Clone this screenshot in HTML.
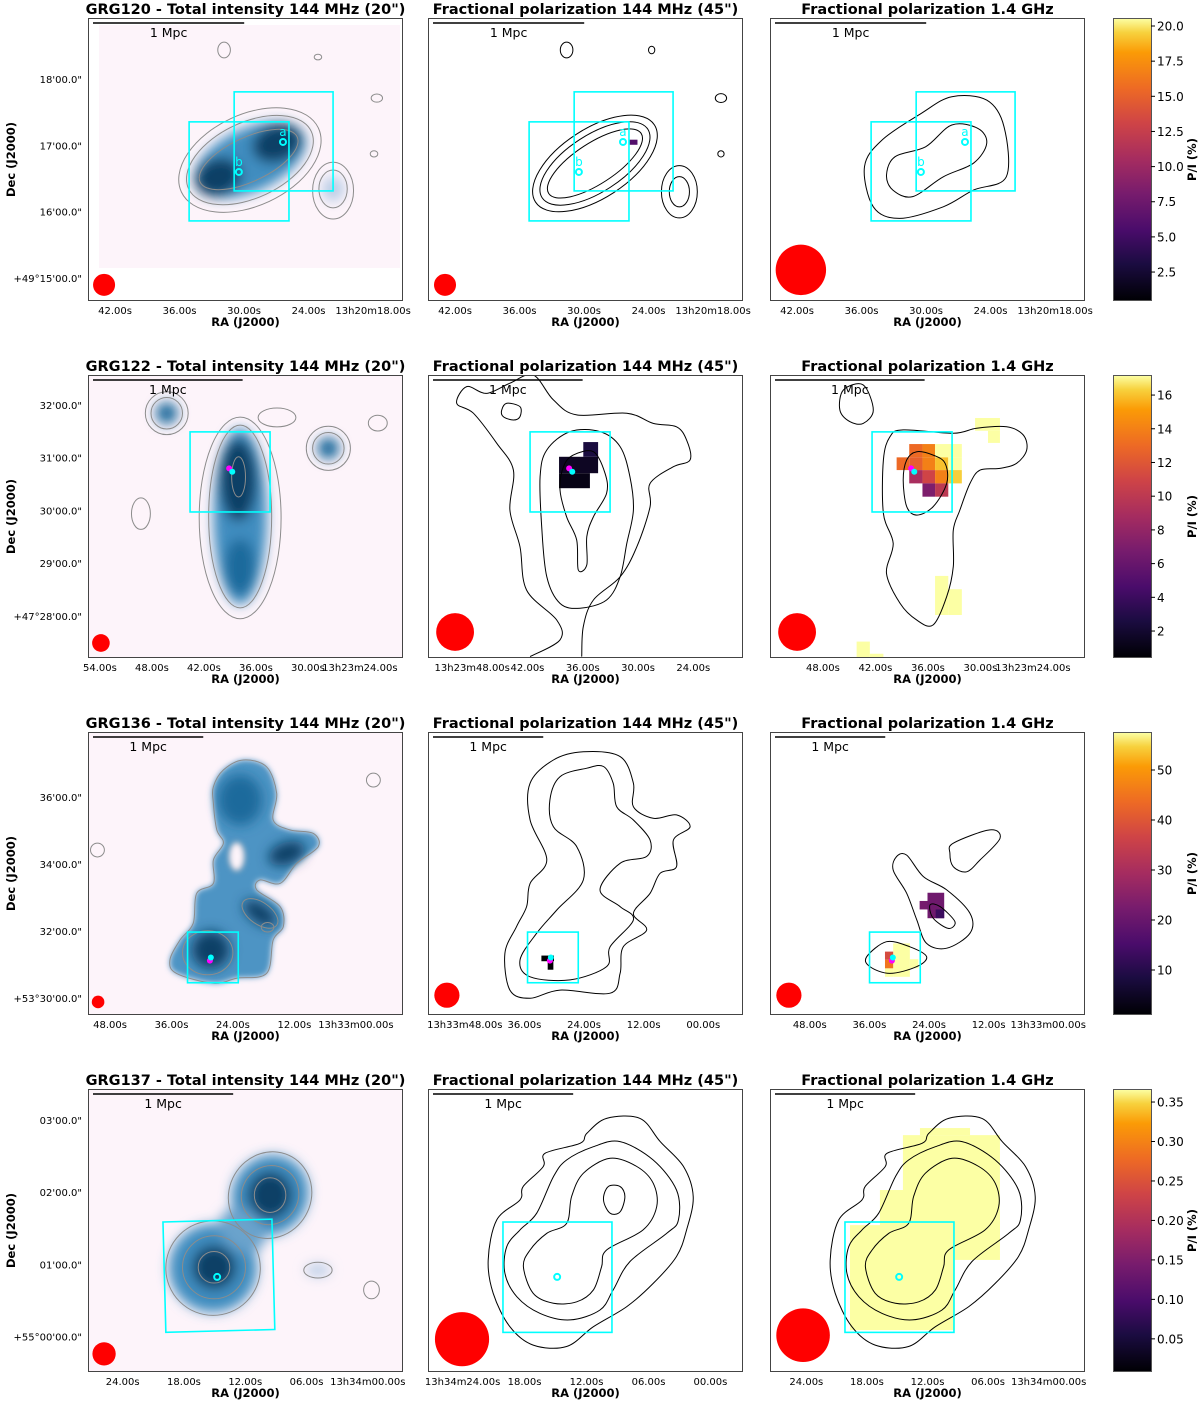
<!DOCTYPE html>
<html><head><meta charset="utf-8">
<style>
html,body{margin:0;padding:0;background:#fff;}
svg{display:block;font-family:"DejaVu Sans","Liberation Sans",sans-serif;}
.title{font-weight:bold;font-size:14.5px;}
.tick{font-size:10px;fill:#000;}
.axl{font-weight:bold;font-size:11.5px;}
.cbt{font-size:12px;}
</style></head>
<body>
<svg id="fig" width="1200" height="1405" viewBox="0 0 1200 1405" xmlns="http://www.w3.org/2000/svg">
<defs>
<filter id="blur" x="-50%" y="-50%" width="200%" height="200%"><feGaussianBlur stdDeviation="6"/></filter>
<filter id="blur2" x="-50%" y="-50%" width="200%" height="200%"><feGaussianBlur stdDeviation="3"/></filter>
<linearGradient id="inferno" x1="0" y1="1" x2="0" y2="0">
<stop offset="0" stop-color="#000004"/><stop offset="0.13" stop-color="#1b0c41"/><stop offset="0.25" stop-color="#4a0c6b"/>
<stop offset="0.38" stop-color="#781c6d"/><stop offset="0.5" stop-color="#a52c60"/><stop offset="0.63" stop-color="#cf4446"/>
<stop offset="0.75" stop-color="#ed6925"/><stop offset="0.88" stop-color="#fb9b06"/><stop offset="0.95" stop-color="#f7d13d"/><stop offset="1" stop-color="#fcffa4"/>
</linearGradient>
</defs>
</svg>
<script>
// ---------------- data ----------------
const titles1 = ["GRG120 - Total intensity 144 MHz (20\")","GRG122 - Total intensity 144 MHz (20\")","GRG136 - Total intensity 144 MHz (20\")","GRG137 - Total intensity 144 MHz (20\")"];
const titlePol = ["Fractional polarization 144 MHz (45\")","Fractional polarization 1.4 GHz"];
const cbDomain = [[0.44,20.57],[0.4,17.19],[1,57.6],[0.008,0.3665]];
const cbTicks = [[2.5,5,7.5,10,12.5,15,17.5,20],[2,4,6,8,10,12,14,16],[10,20,30,40,50],[0.05,0.1,0.15,0.2,0.25,0.3,0.35]];
const cbTickLabels = [["2.5","5.0","7.5","10.0","12.5","15.0","17.5","20.0"],["2","4","6","8","10","12","14","16"],["10","20","30","40","50"],["0.05","0.10","0.15","0.20","0.25","0.30","0.35"]];
const decDomain = [[18.92,14.65],[32.57,27.2],[37.94,29.49],[3.43,-0.49]];
const decTicks = [[18,17,16,15],[32,31,30,29,28],[36,34,32,30],[3,2,1,0]];
const decLabels = [["18'00.0\"","17'00.0\"","16'00.0\"","+49°15'00.0\""],["32'00.0\"","31'00.0\"","30'00.0\"","29'00.0\"","+47°28'00.0\""],["36'00.0\"","34'00.0\"","32'00.0\"","+53°30'00.0\""],["03'00.0\"","02'00.0\"","01'00.0\"","+55°00'00.0\""]];
const raDomain = [
 [[44.52,15.22],[44.52,15.22],[44.52,15.22]],
 [[55.38,19.02],[52.8,18.6],[54.05,18.05]],
 [[52.3,-9.2],[55.4,-8],[56,-7.4]],
 [[27.4,-3.45],[27.35,-3.15],[27.6,-3.6]]];
const raTicks = [
 [[42,36,30,24,18],[42,36,30,24,18],[42,36,30,24,18]],
 [[54,48,42,36,30,24],[48,42,36,30,24],[48,42,36,30,24]],
 [[48,36,24,12,0],[48,36,24,12,0],[48,36,24,12,0]],
 [[24,18,12,6,0],[24,18,12,6,0],[24,18,12,6,0]]];
const raLabels = [
 [["42.00s","36.00s","30.00s","24.00s","13h20m18.00s"],["42.00s","36.00s","30.00s","24.00s","13h20m18.00s"],["42.00s","36.00s","30.00s","24.00s","13h20m18.00s"]],
 [["54.00s","48.00s","42.00s","36.00s","30.00s","13h23m24.00s"],["13h23m48.00s","42.00s","36.00s","30.00s","24.00s"],["48.00s","42.00s","36.00s","30.00s","13h23m24.00s"]],
 [["48.00s","36.00s","24.00s","12.00s","13h33m00.00s"],["13h33m48.00s","36.00s","24.00s","12.00s","00.00s"],["48.00s","36.00s","24.00s","12.00s","13h33m00.00s"]],
 [["24.00s","18.00s","12.00s","06.00s","13h34m00.00s"],["13h34m24.00s","18.00s","12.00s","06.00s","00.00s"],["24.00s","18.00s","12.00s","06.00s","13h34m00.00s"]]];
const mpcBar = [0.48,0.475,0.35,0.445];
const beams = [[[0.051,0.943,0.035],[0.054,0.943,0.035],[0.098,0.89,0.08]],
 [[0.041,0.947,0.028],[0.086,0.908,0.06],[0.086,0.908,0.06]],
 [[0.032,0.954,0.02],[0.06,0.93,0.04],[0.06,0.93,0.04]],
 [[0.051,0.936,0.037],[0.108,0.884,0.086],[0.105,0.87,0.085]]];
const boxes = [[[0.321,0.367,0.638,0.717],[0.464,0.261,0.778,0.611]],[[0.324,0.201,0.578,0.484]],[[0.316,0.707,0.477,0.886]],[[0.238,0.47,0.584,0.86]]];
const hosts = [[[0.619,0.438,"a",0],[0.479,0.544,"b",0]],[[0.448,0.33,"",1],[0.458,0.342,"",2]],[[0.387,0.808,"",1],[0.39,0.797,"",2]],[[0.41,0.664,"",0]]];

const blobs1 = [[0.514,0.502,0.19,0.1,-25,1],[0.413,0.562,0.075,0.06,-20,2],[0.6,0.442,0.08,0.06,-20,2],[0.778,0.604,0.035,0.04,0,0]];
const blobs2 = [[0.483,0.5,0.085,0.28,0,1],[0.477,0.371,0.06,0.13,0,2],[0.483,0.678,0.05,0.09,0,1.5],[0.25,0.135,0.035,0.035,0,1.5],[0.763,0.259,0.035,0.035,0,1.5]];
const blobs3 = [[0.483,0.24,0.07,0.08,0,1.5],[0.631,0.429,0.06,0.035,-20,2],[0.546,0.641,0.06,0.03,35,2],[0.39,0.77,0.06,0.06,0,2]];
const shape3 = [[0.493,0.099],[0.567,0.123],[0.599,0.217],[0.588,0.311],[0.641,0.346],[0.715,0.358],[0.731,0.405],[0.663,0.464],[0.61,0.535],[0.546,0.523],[0.536,0.558],[0.61,0.617],[0.62,0.688],[0.588,0.735],[0.567,0.853],[0.472,0.87],[0.398,0.888],[0.281,0.853],[0.26,0.806],[0.292,0.735],[0.334,0.676],[0.345,0.57],[0.398,0.535],[0.398,0.452],[0.43,0.393],[0.409,0.346],[0.398,0.252],[0.398,0.193],[0.43,0.134]];
const blobs4 = [[0.578,0.375,0.12,0.13,30,1],[0.578,0.375,0.07,0.075,0,2],[0.397,0.633,0.14,0.14,0,1],[0.4,0.63,0.07,0.07,0,2],[0.49,0.5,0.08,0.06,40,0.8],[0.73,0.64,0.04,0.02,0,0]];
const holes3 = [[0.472,0.44,0.024,0.045,0]];
const cont1 = [[0.514,0.502,0.215,0.12,-25],[0.514,0.502,0.24,0.145,-25],[0.51,0.5,0.17,0.07,-25],[0.778,0.604,0.045,0.06,0],[0.778,0.61,0.065,0.09,0],[0.432,0.113,0.02,0.025,0],[0.73,0.138,0.012,0.009,0],[0.917,0.283,0.018,0.013,0],[0.908,0.48,0.012,0.01,0]];
const cont2 = [[0.483,0.5,0.1,0.29,0],[0.483,0.505,0.13,0.32,0],[0.478,0.36,0.022,0.064,0],[0.25,0.135,0.05,0.05,0],[0.25,0.135,0.068,0.068,0],[0.763,0.259,0.05,0.05,0],[0.763,0.259,0.07,0.07,0],[0.168,0.49,0.03,0.05,0],[0.6,0.15,0.06,0.03,0],[0.92,0.17,0.03,0.025,0]];
const cont3 = [[0.546,0.641,0.065,0.035,35],[0.57,0.69,0.02,0.015,0],[0.03,0.417,0.022,0.022,0],[0.906,0.17,0.022,0.022,0],[0.38,0.78,0.08,0.07,0]];
const cont4 = [[0.578,0.375,0.13,0.14,30],[0.578,0.375,0.09,0.095,30],[0.578,0.375,0.05,0.055,0],[0.397,0.633,0.15,0.15,0],[0.4,0.63,0.1,0.1,0],[0.4,0.63,0.05,0.05,0],[0.73,0.64,0.045,0.025,0],[0.9,0.71,0.025,0.028,0]];
const pol1a = [[0.53,0.514,0.175,0.065,-33],[0.53,0.514,0.2,0.09,-33],[0.53,0.514,0.225,0.11,-33],[0.798,0.614,0.032,0.048,0],[0.798,0.614,0.057,0.083,0],[0.44,0.113,0.02,0.025,0],[0.71,0.113,0.01,0.012,0],[0.93,0.283,0.018,0.014,0],[0.93,0.48,0.01,0.01,0]];
const pol1bOuter = [[0.577,0.278],[0.688,0.29],[0.743,0.384],[0.75,0.561],[0.646,0.608],[0.55,0.667],[0.411,0.708],[0.328,0.667],[0.3,0.525],[0.356,0.431],[0.48,0.337]];
const pol1bInner = [[0.577,0.378],[0.66,0.39],[0.688,0.443],[0.646,0.513],[0.55,0.561],[0.453,0.631],[0.39,0.608],[0.37,0.555],[0.397,0.49],[0.494,0.455]];
const pol2aMid = [[0.451,0.2],[0.546,0.2],[0.61,0.253],[0.641,0.359],[0.652,0.477],[0.631,0.595],[0.61,0.713],[0.567,0.795],[0.483,0.824],[0.419,0.807],[0.377,0.713],[0.361,0.536],[0.356,0.359],[0.377,0.265]];
const pol2aInner = [[0.461,0.283],[0.525,0.271],[0.562,0.347],[0.567,0.418],[0.525,0.501],[0.504,0.571],[0.504,0.671],[0.477,0.689],[0.472,0.583],[0.44,0.501],[0.419,0.406],[0.43,0.324]];
const pol2aOuter = [[0.324,0.995],[0.419,0.936],[0.409,0.866],[0.313,0.76],[0.292,0.607],[0.26,0.477],[0.271,0.336],[0.218,0.241],[0.144,0.135],[0.091,0.1],[0.123,0.041],[0.186,0.065],[0.26,0.029],[0.334,0],[0.398,0.088],[0.472,0.141],[0.631,0.135],[0.715,0.171],[0.789,0.183],[0.821,0.23],[0.832,0.3],[0.779,0.324],[0.705,0.383],[0.705,0.465],[0.663,0.607],[0.61,0.713],[0.525,0.795],[0.493,0.889],[0.488,0.995]];
const pol2aSmall = [[0.25,0.1],[0.292,0.112],[0.292,0.147],[0.271,0.159],[0.239,0.147],[0.234,0.124]];
const pol2bOuter = [[0.423,0.194],[0.582,0.206],[0.656,0.188],[0.751,0.183],[0.804,0.212],[0.815,0.265],[0.783,0.312],[0.73,0.33],[0.667,0.336],[0.635,0.383],[0.603,0.477],[0.582,0.548],[0.582,0.677],[0.561,0.783],[0.518,0.883],[0.466,0.866],[0.413,0.807],[0.37,0.701],[0.391,0.595],[0.36,0.489],[0.36,0.3],[0.381,0.218]];
const pol2bInner = [[0.466,0.271],[0.518,0.283],[0.556,0.312],[0.561,0.383],[0.518,0.465],[0.466,0.495],[0.434,0.465],[0.423,0.371],[0.434,0.3]];
const pol2bSmall = [[0.233,0.053],[0.296,0.035],[0.328,0.124],[0.296,0.171],[0.254,0.165],[0.222,0.124]];
const pol3aOuter = [[0.493,0.07],[0.61,0.087],[0.652,0.181],[0.652,0.264],[0.715,0.305],[0.789,0.293],[0.832,0.335],[0.779,0.382],[0.789,0.476],[0.737,0.499],[0.705,0.57],[0.652,0.641],[0.694,0.7],[0.62,0.759],[0.61,0.853],[0.578,0.923],[0.419,0.912],[0.324,0.941],[0.26,0.912],[0.244,0.782],[0.281,0.688],[0.313,0.617],[0.324,0.535],[0.377,0.452],[0.324,0.311],[0.324,0.181],[0.398,0.099]];
const pol3aInner = [[0.557,0.122],[0.588,0.181],[0.599,0.264],[0.652,0.311],[0.705,0.382],[0.694,0.44],[0.61,0.464],[0.546,0.558],[0.61,0.617],[0.652,0.664],[0.578,0.759],[0.567,0.829],[0.451,0.876],[0.324,0.865],[0.292,0.806],[0.345,0.711],[0.409,0.629],[0.493,0.523],[0.472,0.405],[0.398,0.335],[0.387,0.24],[0.419,0.158],[0.504,0.128]];
const pol3bA = [[0.402,0.44],[0.434,0.435],[0.487,0.511],[0.561,0.558],[0.635,0.641],[0.635,0.711],[0.561,0.764],[0.497,0.747],[0.466,0.664],[0.434,0.57],[0.391,0.488]];
const pol3bInner = [[0.508,0.611],[0.54,0.617],[0.587,0.67],[0.566,0.694],[0.518,0.658]];
const pol3bUpper = [[0.582,0.393],[0.698,0.346],[0.73,0.376],[0.667,0.452],[0.624,0.494],[0.582,0.476],[0.571,0.429]];
const pol3bLower = [[0.307,0.794],[0.37,0.741],[0.444,0.759],[0.497,0.794],[0.466,0.829],[0.381,0.853],[0.317,0.829]];
const pol4Outer = [[0.567,0.104],[0.673,0.104],[0.737,0.186],[0.811,0.274],[0.842,0.38],[0.821,0.498],[0.789,0.592],[0.715,0.687],[0.631,0.769],[0.525,0.84],[0.44,0.91],[0.334,0.905],[0.26,0.84],[0.207,0.722],[0.191,0.604],[0.218,0.463],[0.292,0.392],[0.302,0.345],[0.366,0.274],[0.372,0.227],[0.483,0.192],[0.504,0.157]];
const pol4Mid = [[0.61,0.186],[0.715,0.251],[0.789,0.357],[0.795,0.463],[0.758,0.51],[0.641,0.61],[0.588,0.71],[0.546,0.781],[0.451,0.816],[0.356,0.793],[0.282,0.734],[0.244,0.651],[0.25,0.557],[0.292,0.498],[0.345,0.439],[0.398,0.31],[0.44,0.251],[0.525,0.204]];
const pol4Inner = [[0.578,0.245],[0.663,0.274],[0.715,0.333],[0.726,0.416],[0.683,0.498],[0.567,0.569],[0.551,0.628],[0.525,0.71],[0.472,0.752],[0.398,0.757],[0.334,0.722],[0.303,0.628],[0.324,0.569],[0.377,0.51],[0.44,0.475],[0.456,0.38],[0.493,0.298]];
const pol4Small = [[0.572,0.345],[0.61,0.345],[0.625,0.38],[0.61,0.434],[0.578,0.439],[0.557,0.392]];
const pix1b = [[0.64,0.43,0.665,0.448,6]];
const pix2a = [[0.493,0.237,0.54,0.289,2.5],[0.416,0.289,0.54,0.347,1.5],[0.416,0.347,0.514,0.4,1]];
const pix2b = [[0.442,0.244,0.484,0.291,13],[0.484,0.244,0.524,0.291,14],[0.524,0.244,0.609,0.291,17.2],
 [0.402,0.291,0.442,0.336,13],[0.442,0.291,0.484,0.336,12.5],[0.484,0.291,0.524,0.336,14],[0.524,0.291,0.566,0.336,16],[0.566,0.291,0.609,0.336,17.2],
 [0.442,0.336,0.484,0.383,9],[0.484,0.336,0.524,0.383,11],[0.524,0.336,0.566,0.383,14],[0.566,0.336,0.609,0.383,16.3],
 [0.484,0.383,0.524,0.43,7],[0.524,0.383,0.566,0.43,10],
 [0.651,0.152,0.73,0.197,17.2],[0.692,0.197,0.73,0.24,17.2],[0.524,0.71,0.566,0.848,17.2],[0.566,0.757,0.609,0.848,17.2],[0.275,0.942,0.317,1,17.2],[0.317,0.985,0.36,1,17.2]];
const pix3a = [[0.36,0.79,0.4,0.81,1],[0.38,0.81,0.398,0.84,1]];
const pix3b = [[0.5,0.568,0.553,0.658,21],[0.475,0.597,0.5,0.627,22],[0.526,0.627,0.553,0.658,13],
 [0.391,0.747,0.444,0.865,57.6],[0.365,0.835,0.391,0.865,57.6],[0.444,0.803,0.471,0.835,57.6],[0.365,0.776,0.391,0.805,38],[0.365,0.805,0.391,0.835,45]];
const pix4b = [[0.422,0.163,0.73,0.534,0.3665],[0.476,0.138,0.635,0.163,0.3665],[0.254,0.481,0.587,0.852,0.3665],[0.349,0.357,0.73,0.604,0.3665]];

// ---------------- drawing ----------------
const NS="http://www.w3.org/2000/svg";
const svg=document.getElementById('fig');
const PX=[88,428,770], RY=[18,375,732,1089], W=315, H=283;
const CBX=1113, CBW=38;
function mk(tag,attrs,parent){const e=document.createElementNS(NS,tag);for(const k in attrs)e.setAttribute(k,attrs[k]);(parent||svg).appendChild(e);return e;}
function sx(p,u){return PX[p]+u*W;}
function sy(r,v){return RY[r]+v*H;}
function lin(d,r0,r1,val){return r0+(val-d[0])/(d[1]-d[0])*(r1-r0);}
function inferno(t){const st=[[0,[0,0,4]],[.13,[27,12,65]],[.25,[74,12,107]],[.38,[120,28,109]],[.5,[165,44,96]],[.63,[207,68,70]],[.75,[237,105,37]],[.88,[251,155,6]],[.95,[247,209,61]],[1,[252,255,164]]];
 t=Math.max(0,Math.min(1,t));for(let i=1;i<st.length;i++){if(t<=st[i][0]){const a=st[i-1],b=st[i];const f=(t-a[0])/(b[0]-a[0]);const c=a[1].map((x,j)=>Math.round(x+(b[1][j]-x)*f));return `rgb(${c})`;}}return 'rgb(252,255,164)';}
function smooth(pts,p,r,closed){const P=pts.map(q=>[sx(p,q[0]),sy(r,q[1])]);const n=P.length;let d=`M${P[0][0].toFixed(1)},${P[0][1].toFixed(1)}`;
 const last=closed?n:n-1;for(let i=0;i<last;i++){const p0=P[(i-1+n)%n],p1=P[i],p2=P[(i+1)%n],p3=P[(i+2)%n];
 const a=closed||i>0?p0:p1, b=closed||i<n-2?p3:p2;
 d+=` C${(p1[0]+(p2[0]-a[0])/6).toFixed(1)},${(p1[1]+(p2[1]-a[1])/6).toFixed(1)} ${(p2[0]-(b[0]-p1[0])/6).toFixed(1)},${(p2[1]-(b[1]-p1[1])/6).toFixed(1)} ${p2[0].toFixed(1)},${p2[1].toFixed(1)}`;}
 return d+(closed?'Z':'');}
function ell(g,p,r,e,attrs){const cx=sx(p,e[0]),cy=sy(r,e[1]);return mk('ellipse',Object.assign({cx:cx,cy:cy,rx:e[2]*W,ry:e[3]*W,transform:`rotate(${e[4]} ${cx} ${cy})`},attrs),g);}

const blobsAll=[blobs1,blobs2,blobs3,blobs4], contAll=[cont1,cont2,cont3,cont4];
function blueFor(l){return l>=2?'#0b3f66':(l>=1.5?'#1f6a9c':(l>=1?'#3f8dc0':(l>=0.8?'#6aa3cc':'#b9cde6')));}

for(let r=0;r<4;r++){
 for(let p=0;p<3;p++){
  const g=mk('g',{});  
  const cid=`clip${r}${p}`; const cp=mk('clipPath',{id:cid},svg.querySelector('defs')); mk('rect',{x:PX[p],y:RY[r],width:W,height:H},cp);
  const inner=mk('g',{'clip-path':`url(#${cid})`},g);
  if(p===0){
   const bg=mk('rect',{x:PX[p]+(r===0?11:0),y:RY[r]+(r===0?7:0),width:r===0?301:W,height:r===0?243:H,fill:'#fdf4fa'},inner);
   
   if(r===2){
    const sh=mk('path',{d:smooth(shape3,p,r,true),fill:'#4d94c4',filter:'url(#blur2)'},inner);
    
   }
   const bl=mk('g',{filter:'url(#blur)'},inner);
   blobsAll[r].forEach(b=>{const e=ell(bl,p,r,b,{fill:blueFor(b[5])});});
   if(r===2){
    holes3.forEach(h=>{const e=ell(inner,p,r,h,{fill:'#fdf4fa',stroke:'#8c8c8c','stroke-width':1,filter:'url(#blur2)'});});
    const oc=mk('path',{d:smooth(shape3,p,r,true),fill:'none',stroke:'#8c8c8c','stroke-width':1},inner);
    
   }
   contAll[r].forEach(c=>{const e=ell(inner,p,r,c,{fill:'none',stroke:'#8c8c8c','stroke-width':1});});
  } else {
   let pix=[],polys=[],ells=[],openPolys=[];
   if(r===0){ if(p===1){pix=pix1b;ells=pol1a;} else {polys=[pol1bOuter,pol1bInner];} }
   if(r===1){ if(p===1){pix=pix2a;polys=[pol2aMid,pol2aInner,pol2aSmall];openPolys=[pol2aOuter];} else {pix=pix2b;polys=[pol2bOuter,pol2bInner,pol2bSmall];} }
   if(r===2){ if(p===1){pix=pix3a;polys=[pol3aOuter,pol3aInner];} else {pix=pix3b;polys=[pol3bA,pol3bInner,pol3bUpper,pol3bLower];} }
   if(r===3){ if(p===1){polys=[pol4Outer,pol4Mid,pol4Inner,pol4Small];} else {pix=pix4b;polys=[pol4Outer,pol4Mid,pol4Inner];} }
   pix.forEach(q=>{const t=(q[4]-cbDomain[r][0])/(cbDomain[r][1]-cbDomain[r][0]);
    const e=mk('rect',{x:sx(p,q[0]),y:sy(r,q[1]),width:(q[2]-q[0])*W,height:(q[3]-q[1])*H,fill:inferno(t)},inner);
    });
   ells.forEach(c=>{const e=ell(inner,p,r,c,{fill:'none',stroke:'#000','stroke-width':1});});
   polys.forEach(pl=>{const e=mk('path',{d:smooth(pl,p,r,true),fill:'none',stroke:'#000','stroke-width':1},inner);});
   openPolys.forEach(pl=>{const e=mk('path',{d:smooth(pl,p,r,false),fill:'none',stroke:'#000','stroke-width':1},inner);});
  }
  boxes[r].forEach(b=>{const x0=sx(p,b[0]),y0=sy(r,b[1]);const e=mk('rect',{x:x0,y:y0,width:(b[2]-b[0])*W,height:(b[3]-b[1])*H,fill:'none',stroke:'#00ffff','stroke-width':1.6},inner);
   if(r===3&&p===0)e.setAttribute('transform',`rotate(-1.5 ${x0} ${y0})`);
   });
  hosts[r].forEach(h=>{const x=sx(p,h[0]),y=sy(r,h[1]);
   if(h[3]===0){const e=mk('circle',{cx:x,cy:y,r:3,fill:'none',stroke:'#00ffff','stroke-width':2},inner);
    if(h[2]){const t=mk('text',{x:x,y:y-6,'text-anchor':'middle','font-size':12,fill:'#00ffff'},inner);t.textContent=h[2];}}
   else {const e=mk('circle',{cx:x,cy:y,r:3,fill:h[3]===1?'#ff00ff':'#00ffff'},inner);}
  });
  const bm=beams[r][p]; const be=mk('circle',{cx:sx(p,bm[0]),cy:sy(r,bm[1]),r:bm[2]*W,fill:'#ff0000'},inner);
  
  const sb=mk('line',{x1:PX[p]+5,x2:PX[p]+5+mpcBar[r]*W,y1:RY[r]+5,y2:RY[r]+5,stroke:'#000','stroke-width':1.5},g);
  
  const st=mk('text',{x:PX[p]+5+mpcBar[r]*W/2,y:RY[r]+19,'text-anchor':'middle','font-size':12.5},g);st.textContent='1 Mpc';
  
  const fr=mk('rect',{x:PX[p]+0.5,y:RY[r]+0.5,width:W-1,height:H-1,fill:'none',stroke:'#444','stroke-width':1},g);
  
  const tt=mk('text',{x:PX[p]+W/2,y:RY[r]-4,'text-anchor':'middle',class:'title'},g);tt.textContent=p===0?titles1[r]:titlePol[p-1];
  
  raTicks[r][p].forEach((v,i)=>{const lab=raLabels[r][p][i];if(!lab)return;const x=lin(raDomain[r][p],PX[p],PX[p]+W,v);
   const t=mk('text',{x:x,y:RY[r]+H+13,'text-anchor':'middle',class:'tick'},g);t.textContent=lab;
   });
  const rl=mk('text',{x:PX[p]+W/2,y:RY[r]+H+25,'text-anchor':'middle',class:'axl'},g);rl.textContent='RA (J2000)';
  
  if(p===0){
   decTicks[r].forEach((v,i)=>{const y=lin(decDomain[r],RY[r],RY[r]+H,v);
    const t=mk('text',{x:PX[0]-6,y:y+4,'text-anchor':'end',class:'tick'},g);t.textContent=decLabels[r][i];
    });
   const dl=mk('text',{x:15,y:RY[r]+H/2,'text-anchor':'middle',class:'axl',transform:`rotate(-90 15 ${RY[r]+H/2})`},g);dl.textContent='Dec (J2000)';
   
  }
 }
 const cg=mk('g',{});  
 const cr=mk('rect',{x:CBX+0.5,y:RY[r]+0.5,width:CBW,height:H-1,fill:'url(#inferno)',stroke:'#555','stroke-width':1},cg);
 
 cbTicks[r].forEach((v,i)=>{const y=lin(cbDomain[r],RY[r]+H,RY[r],v);
  mk('line',{x1:CBX+CBW,x2:CBX+CBW+4,y1:y,y2:y,stroke:'#000'},cg);
  const t=mk('text',{x:CBX+CBW+6,y:y+4.5,class:'cbt'},cg);t.textContent=cbTickLabels[r][i];
  });
 const cl=mk('text',{x:1196,y:RY[r]+H/2,'text-anchor':'middle',class:'axl',transform:`rotate(-90 1196 ${RY[r]+H/2})`},cg);cl.textContent='P/I (%)';
 
}
</script>
</body></html>
